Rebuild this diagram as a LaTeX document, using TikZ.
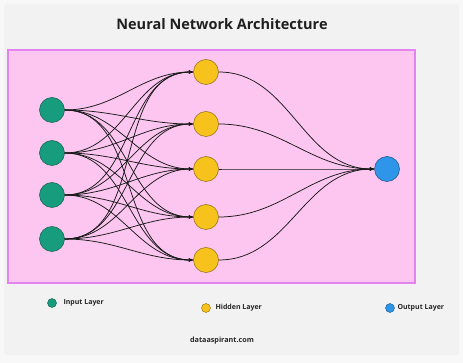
\documentclass[tikz,border=0pt]{standalone}
\usepackage{fontspec}
\setmainfont{Open Sans}
\usetikzlibrary{arrows.meta}

\definecolor{cardgray}{HTML}{F2F2F2}
\definecolor{pagegray}{HTML}{F8F8F8}
\definecolor{panelpink}{HTML}{FCC6F1}
\definecolor{panelrim}{HTML}{E383F0}
\definecolor{inputgreen}{HTML}{179C7D}
\definecolor{hiddenyellow}{HTML}{F8C21C}
\definecolor{outputblue}{HTML}{2E95E8}

\begin{document}
\begin{tikzpicture}[x=1pt, y=-1pt,
  neuron/.style={circle, draw, minimum size=25pt, inner sep=0pt, line width=0.5pt},
  dot/.style={circle, draw, minimum size=9pt, inner sep=0pt, line width=0.4pt},
  link/.style={-{Stealth[length=4.5pt,width=3.2pt]}, line width=0.75pt, draw=black!90, out=0, in=180},
  legendtext/.style={anchor=west, font=\fontsize{7}{8}\selectfont\bfseries, text=black!85}]

% Fondo y marco
\fill[pagegray] (0,0) rectangle (463,363);
\fill[cardgray, rounded corners=3pt] (4,4) rectangle (459,355);
\useasboundingbox (0,0) rectangle (463,363);

\node[font=\fontsize{14.5}{16}\selectfont\bfseries, text=black!88] (title) at (222,24) {Neural Network Architecture};

\draw[panelrim, fill=panelpink, line width=2.5pt] (8,50) rectangle (415,283);

% Capas
\foreach \y [count=\i] in {110, 153, 195, 239}
  \node[neuron, fill=inputgreen, draw=inputgreen!60!black] (in\i) at (52,\y) {};

\foreach \y [count=\j] in {72, 124, 169, 217, 260}
  \node[neuron, fill=hiddenyellow, draw=hiddenyellow!55!black] (hid\j) at (206,\y) {};

\node[neuron, fill=outputblue, draw=outputblue!55!black] (out) at (387,169) {};

% Conexiones
\foreach \i in {1,...,4}
  \foreach \j in {1,...,5}
    \draw[link] (in\i.east) to (hid\j.west);

\foreach \j in {1,...,5}
  \draw[link] (hid\j.east) to (out.west);

% Leyenda
\node[dot, fill=inputgreen, draw=inputgreen!60!black] (leg1) at (52,303) {};
\node[legendtext] (leg1txt) at (60,303) {Input Layer};

\node[dot, fill=hiddenyellow, draw=hiddenyellow!55!black] (leg2) at (206,308) {};
\node[legendtext] (leg2txt) at (212,308) {Hidden Layer};

\node[dot, fill=outputblue, draw=outputblue!55!black] (leg3) at (390,308) {};
\node[legendtext] (leg3txt) at (394,308) {Output Layer};

\node[font=\fontsize{7.2}{8}\selectfont\bfseries, text=black!85] (site) at (222,341) {dataaspirant.com};

\end{tikzpicture}
\end{document}
